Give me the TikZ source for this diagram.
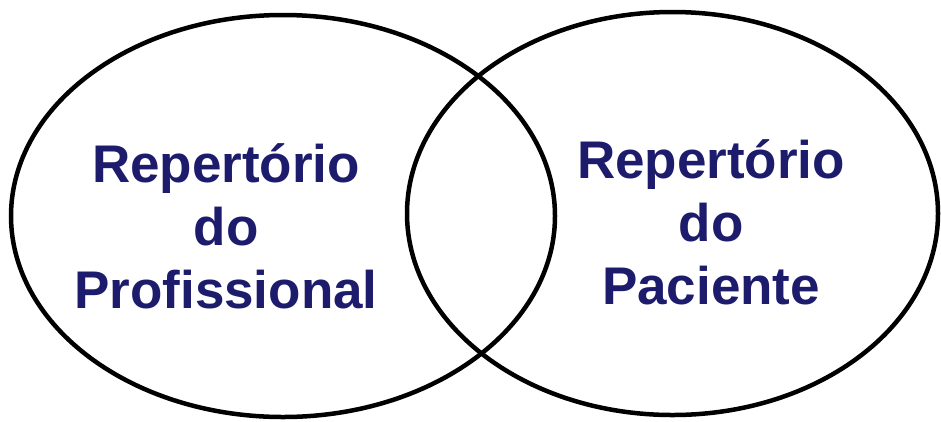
\documentclass[tikz,border=0pt]{standalone}
\usepackage{fontspec}
\setmainfont{Liberation Sans}
\usepackage{tikz}
\usetikzlibrary{positioning}
\definecolor{repnavy}{HTML}{1D1B6B}

\begin{document}
\begin{tikzpicture}[x=1pt,y=-1pt,
  setline/.style={line width=4.5pt},
  replabel/.style={text=repnavy,font=\bfseries\fontsize{53}{63}\selectfont,align=center,inner sep=0pt,anchor=base}]
\useasboundingbox (0,0) rectangle (941,421);
% the two sets
\draw[setline] (283,216) ellipse (272 and 201);
\draw[setline] (672.5,213.5) ellipse (265.5 and 201.5);
% labels (base = last line)
\node[replabel] (profissional) at (226,308) {Repertório\\do\\Profissional};
\node[replabel] (paciente) at (711,304) {Repertório\\do\\Paciente};
\end{tikzpicture}
\end{document}
